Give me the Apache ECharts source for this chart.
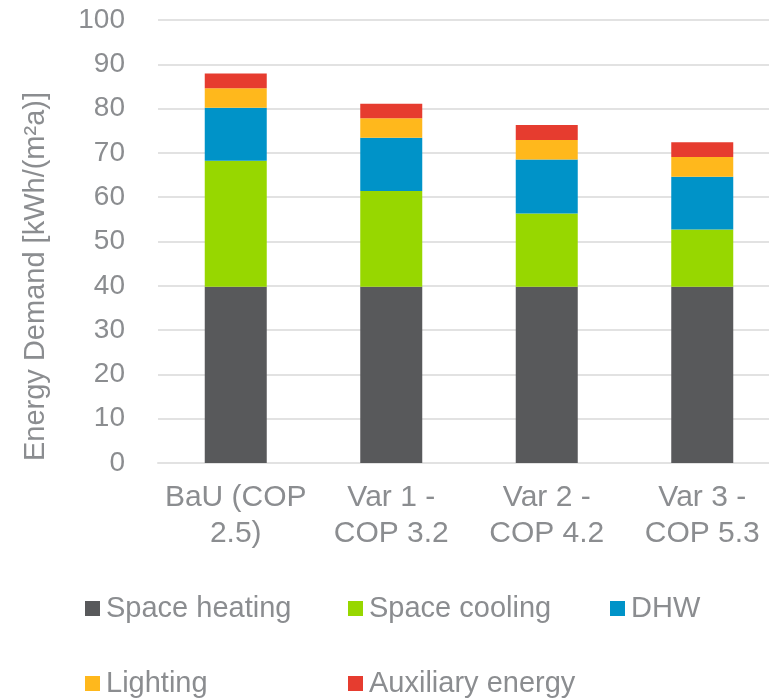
<!DOCTYPE html>
<html>
<head>
<meta charset="utf-8">
<script src="https://cdn.jsdelivr.net/npm/echarts@6/dist/echarts.min.js"></script>
<style>
  html, body { margin: 0; padding: 0; background: #ffffff; overflow: hidden; }
  #wrap { width: 769px; height: 700px; overflow: hidden; }
  #chart { width: 780px; height: 700px; }
</style>
</head>
<body>
<div id="wrap"><div id="chart"></div></div>
<script>
// Scenario categories (x-axis tick labels)
const categories = ['BaU (COP\n2.5)', 'Var 1 -\nCOP 3.2', 'Var 2 -\nCOP 4.2', 'Var 3 -\nCOP 5.3'];

// Energy demand components, kWh/(m²a)
const spaceHeating = [39.8, 39.8, 39.8, 39.8];
const spaceCooling = [28.4, 21.6, 16.5, 12.9];
const dhw          = [12.0, 12.0, 12.2, 11.9];
const lighting     = [4.4, 4.4, 4.4, 4.5];
const auxiliary    = [3.3, 3.3, 3.4, 3.3];

const seriesNames = ['Space heating', 'Space cooling', 'DHW', 'Lighting', 'Auxiliary energy'];
const seriesData  = [spaceHeating, spaceCooling, dhw, lighting, auxiliary];
const colors      = ['#58595b', '#97d700', '#0093c8', '#ffb81c', '#e63c2f'];

const textColor = '#8b8d90';
const fontFamily = '"Liberation Sans", Arial, sans-serif';
const gridColor = '#e2e2e2';

// Legend laid out as a grid: three items on the first row, two on the second
const legendSlots = [
  { left: 85,  top: 594 },
  { left: 348, top: 594 },
  { left: 610, top: 594 },
  { left: 85,  top: 669 },
  { left: 348, top: 669 }
];

const chart = echarts.init(document.getElementById('chart'), null, { renderer: 'canvas' });

chart.setOption({
  animation: false,
  color: colors,
  textStyle: { fontFamily: fontFamily },
  grid: { left: 158, right: 0, top: 20, bottom: 237, containLabel: false },
  legend: seriesNames.map((name, i) => ({
    data: [name],
    left: legendSlots[i].left,
    top: legendSlots[i].top,
    orient: 'horizontal',
    icon: 'rect',
    itemWidth: 15,
    itemHeight: 15,
    padding: 0,
    selectedMode: false,
    textStyle: { color: textColor, fontSize: 29, fontFamily: fontFamily, padding: [0, 0, 0, 1] }
  })),
  xAxis: {
    type: 'category',
    data: categories,
    axisTick: { show: false },
    axisLine: { show: true, lineStyle: { color: gridColor, width: 2 } },
    axisLabel: {
      color: textColor,
      fontSize: 30,
      fontFamily: fontFamily,
      lineHeight: 36,
      margin: 17,
      interval: 0
    }
  },
  yAxis: {
    type: 'value',
    min: 0,
    max: 100,
    interval: 10,
    name: 'Energy Demand [kWh/(m²a)]',
    nameLocation: 'middle',
    nameGap: 108,
    nameTextStyle: {
      color: textColor,
      fontSize: 29,
      fontFamily: fontFamily,
      padding: [0, 70, 0, 0]
    },
    axisLine: { show: false },
    axisTick: { show: false },
    axisLabel: { color: textColor, fontSize: 28, fontFamily: fontFamily, margin: 33 },
    splitLine: { show: true, lineStyle: { color: gridColor, width: 2 } }
  },
  series: seriesNames.map((name, i) => ({
    name: name,
    type: 'bar',
    stack: 'demand',
    barWidth: 62,
    data: seriesData[i],
    itemStyle: { color: colors[i] }
  }))
});
</script>
</body>
</html>
